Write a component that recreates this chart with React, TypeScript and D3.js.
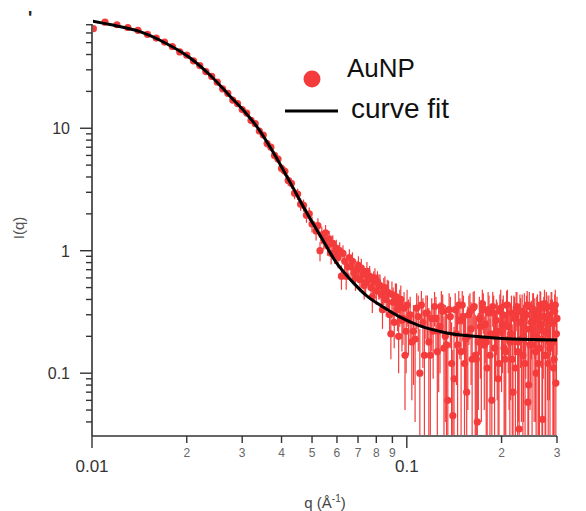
import React from 'react';
import * as d3 from 'd3';

// Scattering vector q (1/Å) of the AuNP data points (main grid)
const qData = [
  0.0101, 0.011, 0.012, 0.013, 0.014, 0.015, 0.016, 0.017, 0.018, 0.019, 0.020,
  0.021, 0.022, 0.023, 0.024, 0.025, 0.026, 0.027, 0.028, 0.029, 0.030,
  0.031, 0.032, 0.033, 0.034, 0.035, 0.036, 0.037, 0.038, 0.039, 0.040,
  0.041, 0.042, 0.043, 0.044, 0.045, 0.046, 0.047, 0.048, 0.049, 0.050,
  0.0515, 0.053, 0.0545, 0.056, 0.0575, 0.059, 0.0605, 0.062, 0.0635, 0.065,
  0.0665, 0.068, 0.0695, 0.071, 0.0725, 0.074, 0.0755, 0.077, 0.0785, 0.080,
  0.0815, 0.083, 0.0845, 0.086, 0.0875, 0.089, 0.0905, 0.092, 0.0935, 0.095,
  0.0965, 0.098, 0.0995,
  0.1025, 0.105, 0.1075, 0.110, 0.1125, 0.115, 0.1175, 0.120, 0.1225, 0.125,
  0.1275, 0.130, 0.1325, 0.135, 0.1375, 0.140, 0.1425, 0.145, 0.1475, 0.150,
  0.1525, 0.155, 0.1575, 0.160, 0.1625, 0.165, 0.1675, 0.170, 0.1725, 0.175,
  0.1775, 0.180, 0.1825, 0.185, 0.1875, 0.190, 0.1925, 0.195, 0.1975, 0.200,
  0.2025, 0.205, 0.2075, 0.210, 0.2125, 0.215, 0.2175, 0.220, 0.2225, 0.225,
  0.2275, 0.230, 0.2325, 0.235, 0.2375, 0.240, 0.2425, 0.245, 0.2475, 0.250,
  0.2525, 0.255, 0.2575, 0.260, 0.2625, 0.265, 0.2675, 0.270, 0.2725, 0.275,
  0.2775, 0.280, 0.2825, 0.285, 0.2875, 0.290, 0.2925, 0.295, 0.2975, 0.300,
];

// Measured intensity I(q) (main grid)
const iData = [
  65.0, 73.5, 70.0, 66.5, 63.0, 58.5, 54.5, 50.5, 46.5, 42.0, 39.5,
  35.5, 32.5, 29.0, 26.5, 23.8, 21.0, 19.3, 17.0, 15.9, 14.2,
  13.3, 11.6, 10.9, 9.5, 8.8, 7.5, 7.0, 6.0, 5.6, 4.7,
  4.45, 3.75, 3.55, 2.95, 2.90, 2.40, 2.35, 1.95, 2.00, 1.65,
  1.45, 1.00, 1.22, 1.10, 0.95, 0.95, 0.88, 0.62, 0.82, 0.74,
  0.74, 0.66, 0.70, 0.58, 0.64, 0.55, 0.60, 0.50, 0.56, 0.47,
  0.52, 0.44, 0.48, 0.40, 0.45, 0.21, 0.38, 0.42, 0.33, 0.36,
  0.27, 0.34, 0.22,
  0.30, 0.22, 0.34, 0.10, 0.26, 0.31, 0.18, 0.28, 0.35, 0.15,
  0.24, 0.32, 0.20, 0.06, 0.29, 0.045, 0.33, 0.17, 0.27, 0.36,
  0.12, 0.07, 0.30, 0.23, 0.34, 0.14, 0.04, 0.28, 0.19, 0.33,
  0.25, 0.11, 0.31, 0.21, 0.35, 0.16, 0.27, 0.09, 0.32, 0.22,
  0.30, 0.13, 0.36, 0.24, 0.18, 0.31, 0.07, 0.28, 0.34, 0.15,
  0.035, 0.26, 0.32, 0.20, 0.12, 0.30, 0.058, 0.35, 0.23, 0.17,
  0.33, 0.27, 0.10, 0.31, 0.19, 0.36, 0.25, 0.042, 0.29, 0.14,
  0.34, 0.21, 0.30, 0.16, 0.35, 0.26, 0.11, 0.32, 0.083, 0.28,
];

// Error bar half-lengths (main grid)
const errData = [
  2.0, 2.0, 2.0, 2.0, 1.9, 1.8, 1.7, 1.6, 1.5, 1.4, 1.3,
  1.2, 1.1, 1.0, 0.95, 0.9, 0.85, 0.8, 0.75, 0.7, 0.65,
  0.6, 0.6, 0.55, 0.55, 0.5, 0.5, 0.45, 0.45, 0.4, 0.4,
  0.38, 0.36, 0.34, 0.32, 0.3, 0.28, 0.27, 0.26, 0.25, 0.24,
  0.24, 0.18, 0.20, 0.19, 0.18, 0.17, 0.16, 0.14, 0.15, 0.14,
  0.14, 0.13, 0.13, 0.12, 0.12, 0.12, 0.12, 0.11, 0.12, 0.11,
  0.12, 0.11, 0.12, 0.11, 0.12, 0.08, 0.12, 0.12, 0.11, 0.12,
  0.12, 0.12, 0.12,
  0.12, 0.14, 0.11, 0.13, 0.15, 0.12, 0.16, 0.13, 0.11, 0.15,
  0.14, 0.12, 0.16, 0.12, 0.13, 0.11, 0.12, 0.15, 0.14, 0.11,
  0.16, 0.12, 0.13, 0.15, 0.12, 0.16, 0.11, 0.14, 0.15, 0.12,
  0.13, 0.16, 0.12, 0.15, 0.11, 0.16, 0.13, 0.14, 0.12, 0.15,
  0.13, 0.16, 0.11, 0.14, 0.16, 0.12, 0.13, 0.14, 0.12, 0.16,
  0.11, 0.15, 0.12, 0.16, 0.15, 0.13, 0.12, 0.11, 0.15, 0.16,
  0.12, 0.14, 0.15, 0.13, 0.16, 0.11, 0.14, 0.12, 0.13, 0.16,
  0.12, 0.15, 0.13, 0.16, 0.11, 0.14, 0.15, 0.12, 0.13, 0.14,
];

// Interleaved data points (between the main grid points, q > 0.05)
const qExtra = [
  0.0522, 0.0537, 0.0552, 0.0567, 0.0582, 0.0597, 0.0612, 0.0627, 0.0642, 0.0657,
  0.0672, 0.0687, 0.0702, 0.0717, 0.0732, 0.0747, 0.0762, 0.0777, 0.0792, 0.0807,
  0.0822, 0.0837, 0.0852, 0.0867, 0.0882, 0.0897, 0.0912, 0.0927, 0.0942, 0.0957,
  0.0972, 0.0987, 0.1002,
  0.10125, 0.10375, 0.10625, 0.10875, 0.11125, 0.11375, 0.11625, 0.11875, 0.12125, 0.12375,
  0.12625, 0.12875, 0.13125, 0.13375, 0.13625, 0.13875, 0.14125, 0.14375, 0.14625, 0.14875,
  0.15125, 0.15375, 0.15625, 0.15875, 0.16125, 0.16375, 0.16625, 0.16875, 0.17125, 0.17375,
  0.17625, 0.17875, 0.18125, 0.18375, 0.18625, 0.18875, 0.19125, 0.19375, 0.19625, 0.19875,
  0.20125, 0.20375, 0.20625, 0.20875, 0.21125, 0.21375, 0.21625, 0.21875, 0.22125, 0.22375,
  0.22625, 0.22875, 0.23125, 0.23375, 0.23625, 0.23875, 0.24125, 0.24375, 0.24625, 0.24875,
  0.25125, 0.25375, 0.25625, 0.25875, 0.26125, 0.26375, 0.26625, 0.26875, 0.27125, 0.27375,
  0.27625, 0.27875, 0.28125, 0.28375, 0.28625, 0.28875, 0.29125, 0.29375, 0.29625, 0.29875,
];
const iExtra = [
  1.60, 1.35, 1.40, 1.25, 1.15, 1.05, 1.00, 0.95, 0.62, 0.88,
  0.82, 0.60, 0.76, 0.72, 0.52, 0.68, 0.62, 0.42, 0.60, 0.56,
  0.52, 0.33, 0.50, 0.46, 0.30, 0.44, 0.26, 0.42, 0.20, 0.40,
  0.28, 0.14, 0.36,
  0.27, 0.18, 0.19, 0.29, 0.36, 0.14, 0.31, 0.14, 0.22, 0.28,
  0.22, 0.35, 0.16, 0.17, 0.33, 0.12, 0.09, 0.21, 0.36, 0.15,
  0.29, 0.19, 0.20, 0.32, 0.13, 0.35, 0.13, 0.18, 0.24, 0.37,
  0.17, 0.18, 0.33, 0.14, 0.06, 0.31, 0.20, 0.22, 0.12, 0.34,
  0.25, 0.16, 0.15, 0.36, 0.19, 0.21, 0.13, 0.30, 0.11, 0.35,
  0.18, 0.32, 0.19, 0.14, 0.29, 0.23, 0.36, 0.08, 0.17, 0.26,
  0.33, 0.20, 0.15, 0.28, 0.12, 0.16, 0.34, 0.19, 0.22, 0.37,
  0.14, 0.29, 0.12, 0.18, 0.27, 0.35, 0.18, 0.13, 0.36, 0.21,
];
const errExtra = [
  0.24, 0.22, 0.22, 0.20, 0.19, 0.18, 0.17, 0.16, 0.14, 0.15,
  0.15, 0.13, 0.14, 0.14, 0.12, 0.13, 0.13, 0.11, 0.12, 0.12,
  0.12, 0.10, 0.12, 0.12, 0.10, 0.12, 0.10, 0.12, 0.10, 0.12,
  0.11, 0.09, 0.12,
  0.13, 0.12, 0.15, 0.14, 0.11, 0.16, 0.12, 0.15, 0.13, 0.14,
  0.15, 0.12, 0.13, 0.16, 0.12, 0.14, 0.15, 0.13, 0.11, 0.16,
  0.14, 0.12, 0.15, 0.13, 0.16, 0.12, 0.14, 0.13, 0.15, 0.11,
  0.12, 0.16, 0.13, 0.14, 0.15, 0.12, 0.11, 0.16, 0.13, 0.14,
  0.15, 0.13, 0.16, 0.12, 0.14, 0.15, 0.12, 0.13, 0.16, 0.11,
  0.14, 0.12, 0.15, 0.13, 0.16, 0.14, 0.11, 0.15, 0.12, 0.13,
  0.12, 0.16, 0.11, 0.14, 0.13, 0.15, 0.12, 0.16, 0.13, 0.11,
  0.15, 0.14, 0.16, 0.12, 0.13, 0.11, 0.15, 0.14, 0.12, 0.13,
];

// Curve fit
const curveQ = [
  0.0100, 0.0114, 0.0142, 0.0171, 0.0205, 0.0237, 0.0274, 0.0306, 0.0337, 0.0376,
  0.0425, 0.0481, 0.0541, 0.0595, 0.0659, 0.0746, 0.0851, 0.0950, 0.110, 0.134,
  0.1705, 0.217, 0.300,
];
const curveI = [
  75.1, 70.3, 61.5, 49.7, 37.5, 27.2, 18.35, 13.6, 10.0, 6.41,
  3.65, 2.04, 1.225, 0.810, 0.589, 0.428, 0.341, 0.288, 0.243, 0.213,
  0.198, 0.190, 0.187,
];

const xDomain = [0.01, 0.3];
const yDomain = [0.0307, 71];
const yMajorLabels = ['0.1', '1', '10'];
const legendLabels = ['AuNP', 'curve fit'];

const RED = '#f43c3c';
const FONT = '"Liberation Sans", Arial, Helvetica, sans-serif';

export default function App() {
  const x = d3.scaleLog().domain(xDomain).range([92, 557]);
  const y = d3.scaleLog().domain(yDomain).range([436, 24]);
  const x0 = 92;
  const y0 = 436;

  const allQ = [...qData, ...qExtra];
  const allI = [...iData, ...iExtra];
  const allE = [...errData, ...errExtra];

  const line = d3
    .line<number>()
    .x((_, i) => x(curveQ[i]))
    .y((d) => y(d))
    .curve(d3.curveMonotoneX);

  const isMajor = (v: number) => Math.abs(Math.log10(v) - Math.round(Math.log10(v))) < 1e-6;
  const yTicks = y.ticks().filter((t) => t >= yDomain[0] && t <= yDomain[1]);
  const xTicks = x.ticks().filter((t) => t >= xDomain[0] - 1e-9 && t <= xDomain[1] + 1e-9);

  return (
    <div style={{ position: 'absolute', left: 0, top: 0 }}>
      <svg width={586} height={511} style={{ display: 'block', background: '#fff' }} fontFamily={FONT}>
        <defs>
          <clipPath id="plotClip">
            <rect x={x0 + 1} y={0} width={480} height={y0 - 1} />
          </clipPath>
        </defs>
        <text x={28} y={24} fontSize={18} fontWeight="bold" fill="#222">'</text>

        {/* data */}
        <g clipPath="url(#plotClip)">
          {allQ.map((q, i) => {
            const v = allI[i];
            const lo = v - allE[i];
            const yTop = y(v + allE[i]);
            const yBot = lo > 0 ? y(lo) : y0 + 20;
            return (
              <line key={'e' + i} x1={x(q)} x2={x(q)} y1={yTop} y2={yBot} stroke={RED} strokeWidth={1.2} />
            );
          })}
          {allQ.map((q, i) => (
            <circle key={'c' + i} cx={x(q)} cy={y(allI[i])} r={3.6} fill={RED} />
          ))}
          <path d={line(curveI) || ''} fill="none" stroke="#000" strokeWidth={3} />
        </g>

        {/* y axis */}
        <line x1={x0} x2={x0} y1={24} y2={y0} stroke="#333" strokeWidth={1.6} />
        {yTicks.map((t) => {
          const major = isMajor(t);
          return (
            <line key={'yt' + t} x1={x0 - (major ? 12 : 6)} x2={x0} y1={y(t)} y2={y(t)} stroke="#333" strokeWidth={1.4} />
          );
        })}
        {yTicks.filter(isMajor).map((t, i) => (
          <text key={'yl' + t} x={70} y={y(t) + 6} fontSize={16} textAnchor="end" fill="#333">
            {yMajorLabels[i]}
          </text>
        ))}
        <text transform="translate(24,228) rotate(-90)" fontSize={15} textAnchor="middle" fill="#555">
          I(q)
        </text>

        {/* x axis */}
        <line x1={x0} x2={557} y1={y0} y2={y0} stroke="#333" strokeWidth={1.6} />
        {xTicks.map((t) => {
          const major = isMajor(t);
          return (
            <line key={'xt' + t} x1={x(t)} x2={x(t)} y1={y0} y2={y0 + (major ? 12 : 7)} stroke="#333" strokeWidth={1.4} />
          );
        })}
        {xTicks.map((t) => {
          const major = isMajor(t);
          const lead = Math.round(t / Math.pow(10, Math.floor(Math.log10(t) + 1e-9)));
          return major ? (
            <text key={'xl' + t} x={x(t)} y={472} fontSize={17} textAnchor="middle" fill="#333">
              {d3.format('~g')(t)}
            </text>
          ) : (
            <text key={'xl' + t} x={x(t)} y={457} fontSize={12} textAnchor="middle" fill="#666">
              {String(lead)}
            </text>
          );
        })}
        <text x={325} y={508} fontSize={15} textAnchor="middle" fill="#444">
          q (Å
          <tspan dy={-6} fontSize={10}>-1</tspan>
          <tspan dy={6}>)</tspan>
        </text>

        {/* legend */}
        <circle cx={312} cy={79} r={8.5} fill={RED} />
        <text x={347} y={77} fontSize={26} fill="#111">{legendLabels[0]}</text>
        <line x1={285} x2={338} y1={111} y2={111} stroke="#000" strokeWidth={3} />
        <text x={351} y={118} fontSize={28} fill="#111">{legendLabels[1]}</text>
      </svg>
    </div>
  );
}
